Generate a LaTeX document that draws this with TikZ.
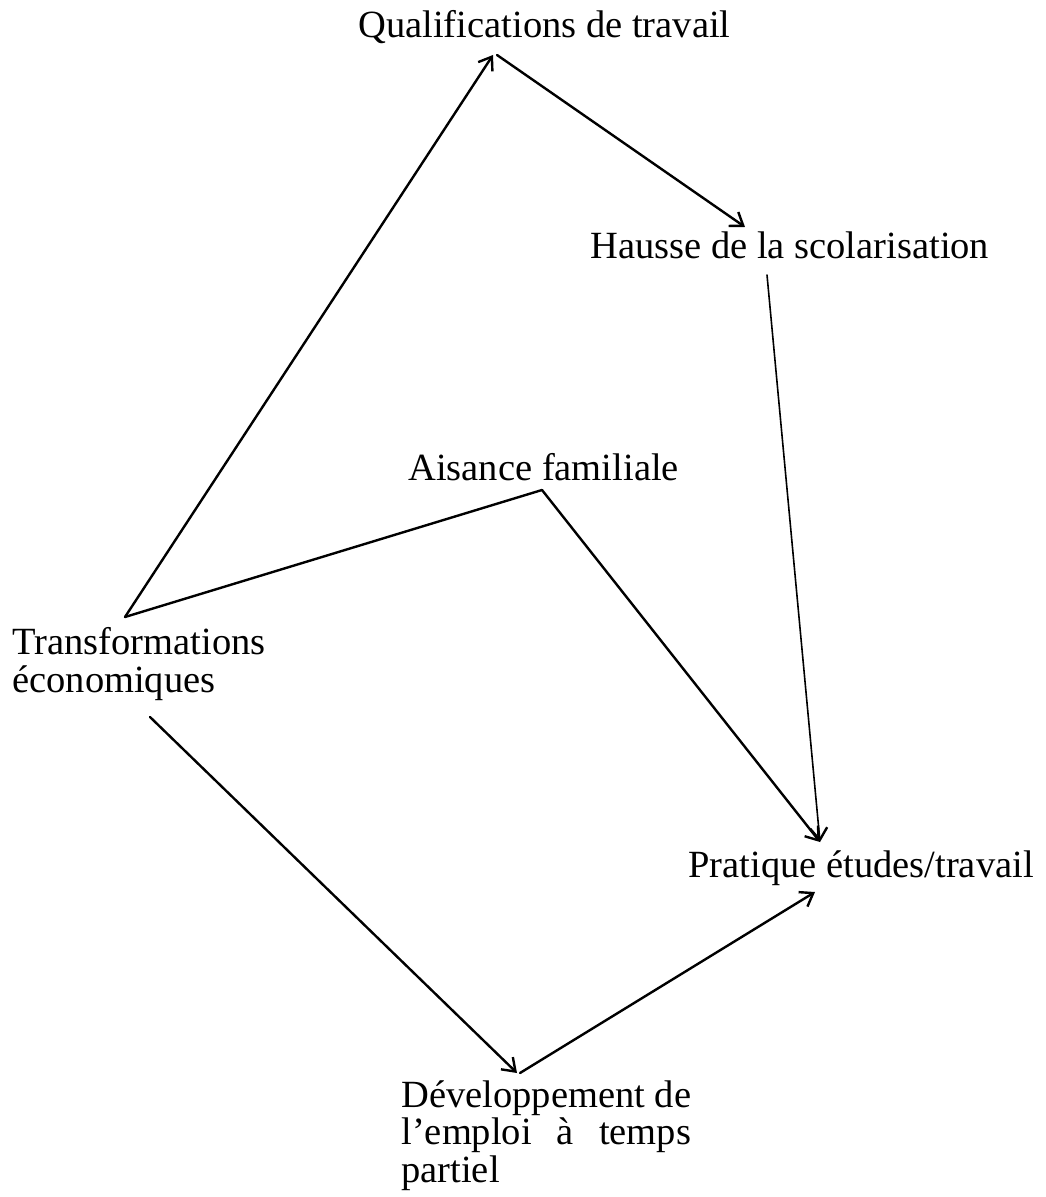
\documentclass[tikz,border=0pt]{standalone}
\usepackage{fontspec}
\setmainfont{Liberation Serif}
\usepackage{calc}
\usetikzlibrary{arrows.meta}
\begin{document}
\begin{tikzpicture}[x=0.5pt,y=-0.5pt,
  lbl/.style={inner sep=0pt, anchor=base west, align=left,
    font=\fontsize{19.25pt}{18.75pt}\selectfont},
  conn/.style={line width=1.2pt, line cap=round, line join=round},
  arr/.style={conn, -{Straight Barb[length=6pt,width=8.5pt,line width=1.2pt]}}]
\useasboundingbox (0,0) rectangle (1045,1197);
\fill[white] (0,0) rectangle (1045,1197);
% labels (multi-line nodes: base = baseline of last line)
\node[lbl] (qual) at (358,38) {Qualifications de travail};
\node[lbl] (haus) at (590,259) {Hausse de la scolarisation};
\node[lbl] (ais) at (408,480) {Aisance familiale};
\node[lbl, font=\fontsize{19.25pt}{19pt}\selectfont] (trans) at (12,692) {Transformations\\économiques};
\node[lbl] (prat) at (688,877) {Pratique études/travail};
\node[lbl] (dev) at (401,1182) {Développement de\\\makebox[\widthof{Développement de}][s]{l’emploi à temps}\\partiel};
% connector end points
\coordinate (tc) at (125,617);
\coordinate (qa) at (493,55);
\coordinate (qb) at (497,55);
\coordinate (ht) at (745,227);
\coordinate (hb) at (767,275);
\coordinate (aa) at (542,490);
\coordinate (pa) at (820,842);
\coordinate (pb) at (815,892);
\coordinate (tb) at (150,717);
\coordinate (da) at (517,1073);
\coordinate (db) at (520,1073);
% connectors
\draw[arr] (tc) -- (qa);
\draw[arr] (qb) -- (ht);
\draw[arr, line width=0.8pt] (hb) -- (pa);
\draw[conn] (tc) -- (aa);
\draw[arr] (aa) -- (pa);
\draw[arr] (tb) -- (da);
\draw[arr] (db) -- (pb);
\end{tikzpicture}
\end{document}
